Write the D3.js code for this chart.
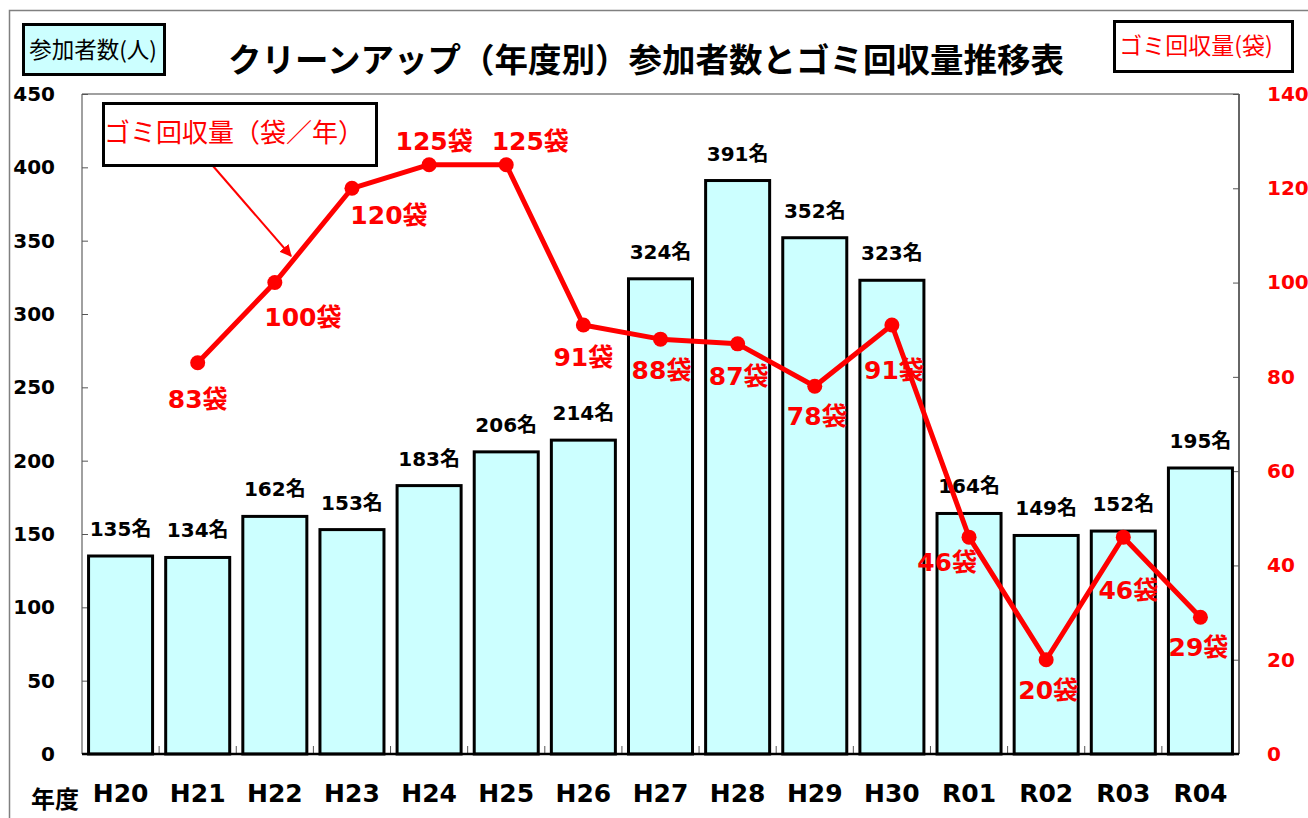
<!DOCTYPE html>
<html>
<head>
<meta charset="utf-8">
<script src="https://cdn.jsdelivr.net/npm/d3@7"></script>
<style>
  body { margin: 0; background: #fff; }
  svg { display: block; }
</style>
</head>
<body>
<svg id="chart" width="1308" height="818"></svg>
<script>
// Data
const years = ['H20', 'H21', 'H22', 'H23', 'H24', 'H25', 'H26', 'H27', 'H28', 'H29', 'H30', 'R01', 'R02', 'R03', 'R04'];
const participants = [135, 134, 162, 153, 183, 206, 214, 324, 391, 352, 323, 164, 149, 152, 195];
const bags = [null, 83, 100, 120, 125, 125, 91, 88, 87, 78, 91, 46, 20, 46, 29];
const leftTicks = [0, 50, 100, 150, 200, 250, 300, 350, 400, 450];
const rightTicks = [0, 20, 40, 60, 80, 100, 120, 140];

// Where each bag label sits relative to its point
const bagLabelOffset = [null, [0, 36], [28, 34], [37, 27], [5, -24], [24, -24], [0, 32], [1, 31],
    [1, 32], [2, 30], [2, 45], [-22, 25], [2, 30], [5, 53], [-2, 30]];

const width = 1308, height = 818;
let plotLeft = 82, plotRight = 1239, plotTop = 94, plotBottom = 754;

const numFont = '"DejaVu Sans", "Noto Sans CJK JP", sans-serif';
const jpFont = '"Noto Sans CJK JP", "DejaVu Sans", sans-serif';

const svg = d3.select("#chart");

// outer frame
svg.append("rect")
    .attr("x", 9.5).attr("y", 10.5)
    .attr("width", width + 20).attr("height", height + 20)
    .attr("fill", "none")
    .attr("stroke", "#808080")
    .attr("stroke-width", 1.5);

// Scales
var x = d3.scaleBand()
    .domain(years)
    .range([plotLeft, plotRight])
    .paddingInner(0.17)
    .paddingOuter(0.085);

var yLeft = d3.scaleLinear()
    .domain([0, 450])
    .range([plotBottom, plotTop]);

var yRight = d3.scaleLinear()
    .domain([0, 140])
    .range([plotBottom, plotTop]);

// plot frame
svg.append("line")
    .attr("x1", plotLeft).attr("x2", plotRight)
    .attr("y1", plotTop).attr("y2", plotTop)
    .attr("stroke", "#808080").attr("stroke-width", 1.5);
svg.append("line")
    .attr("x1", plotLeft).attr("x2", plotLeft)
    .attr("y1", plotTop).attr("y2", plotBottom)
    .attr("stroke", "#808080").attr("stroke-width", 1.5);
svg.append("line")
    .attr("x1", plotRight).attr("x2", plotRight)
    .attr("y1", plotTop).attr("y2", plotBottom)
    .attr("stroke", "#333").attr("stroke-width", 1.5);

// left axis
const gLeft = svg.append("g")
    .attr("transform", `translate(${plotLeft},0)`)
    .call(d3.axisLeft(yLeft).tickValues(leftTicks).tickSize(-6).tickPadding(27));
gLeft.select(".domain").remove();
gLeft.selectAll(".tick line").attr("stroke", "#555");
gLeft.selectAll("text")
    .style("font-family", numFont)
    .style("font-weight", "bold")
    .style("font-size", "20px")
    .attr("fill", "#000");

// right axis
const gRight = svg.append("g")
    .attr("transform", `translate(${plotRight},0)`)
    .call(d3.axisRight(yRight).tickValues(rightTicks).tickSize(-6).tickPadding(28));
gRight.select(".domain").remove();
gRight.selectAll(".tick line").attr("stroke", "#555");
gRight.selectAll("text")
    .style("font-family", numFont)
    .style("font-weight", "bold")
    .style("font-size", "20px")
    .attr("fill", "#ff0000");

// category ticks between bars
svg.selectAll(".xtick")
    .data(years.slice(1))
    .enter()
    .append("line")
    .attr("x1", d => x(d) - x.step() * x.paddingInner() / 2)
    .attr("x2", d => x(d) - x.step() * x.paddingInner() / 2)
    .attr("y1", plotBottom).attr("y2", plotBottom - 8)
    .attr("stroke", "#555").attr("stroke-width", 1);

// Bars
svg.selectAll(".bar")
    .data(participants)
    .enter()
    .append("rect")
    .attr("x", (d, i) => x(years[i]))
    .attr("y", d => yLeft(d))
    .attr("width", x.bandwidth())
    .attr("height", d => plotBottom - yLeft(d))
    .attr("fill", "#ccffff")
    .attr("stroke", "#000")
    .attr("stroke-width", 3);

// baseline
svg.append("line")
    .attr("x1", plotLeft).attr("x2", plotRight)
    .attr("y1", plotBottom).attr("y2", plotBottom)
    .attr("stroke", "#000").attr("stroke-width", 2.5);

// bar labels
svg.selectAll(".barLabel")
    .data(participants)
    .enter()
    .append("text")
    .attr("x", (d, i) => x(years[i]) + x.bandwidth() / 2)
    .attr("y", d => yLeft(d) - 20)
    .attr("text-anchor", "middle")
    .style("font-family", numFont)
    .style("font-weight", "bold")
    .style("font-size", "20px")
    .text(d => d + "名");

// x labels
svg.selectAll(".xLabel")
    .data(years)
    .enter()
    .append("text")
    .attr("x", d => x(d) + x.bandwidth() / 2)
    .attr("y", 802)
    .attr("text-anchor", "middle")
    .style("font-family", numFont)
    .style("font-weight", "bold")
    .style("font-size", "25px")
    .text(d => d);

svg.append("text")
    .attr("x", 55).attr("y", 808)
    .attr("text-anchor", "middle")
    .style("font-family", jpFont)
    .style("font-weight", "bold")
    .style("font-size", "24px")
    .text("年度");

// Line of bags
const bagPoints = years.map((d, i) => ({ year: d, value: bags[i], offset: bagLabelOffset[i] }))
    .filter(d => d.value !== null);

svg.append("path")
    .datum(bagPoints)
    .attr("fill", "none")
    .attr("stroke", "#ff0000")
    .attr("stroke-width", 5)
    .attr("stroke-linejoin", "round")
    .attr("d", d3.line()
        .x(d => x(d.year) + x.bandwidth() / 2)
        .y(d => yRight(d.value)));

svg.selectAll(".dot")
    .data(bagPoints)
    .enter()
    .append("circle")
    .attr("cx", d => x(d.year) + x.bandwidth() / 2)
    .attr("cy", d => yRight(d.value))
    .attr("r", 7.5)
    .attr("fill", "#ff0000");

svg.selectAll(".bagLabel")
    .data(bagPoints)
    .enter()
    .append("text")
    .attr("x", d => x(d.year) + x.bandwidth() / 2 + d.offset[0])
    .attr("y", d => yRight(d.value) + d.offset[1])
    .attr("dy", "0.36em")
    .attr("text-anchor", "middle")
    .attr("fill", "#ff0000")
    .style("font-family", numFont)
    .style("font-weight", "bold")
    .style("font-size", "25px")
    .text(d => d.value + "袋");

// Title
svg.append("text")
    .attr("x", 646).attr("y", 72)
    .attr("text-anchor", "middle")
    .style("font-family", jpFont)
    .style("font-weight", "bold")
    .style("font-size", "33.5px")
    .text("クリーンアップ（年度別）参加者数とゴミ回収量推移表");

// Left axis title box
svg.append("rect")
    .attr("x", 23.5).attr("y", 24.5)
    .attr("width", 141).attr("height", 50)
    .attr("fill", "#ccffff")
    .attr("stroke", "#000").attr("stroke-width", 3);
svg.append("text")
    .attr("x", 93).attr("y", 50)
    .attr("dy", "0.35em")
    .attr("text-anchor", "middle")
    .style("font-family", jpFont)
    .style("font-size", "22.5px")
    .text("参加者数(人)");

// Right axis title box
svg.append("rect")
    .attr("x", 1114.5).attr("y", 21.5)
    .attr("width", 178).attr("height", 50)
    .attr("fill", "#fff")
    .attr("stroke", "#000").attr("stroke-width", 3);
svg.append("text")
    .attr("x", 1196).attr("y", 46)
    .attr("dy", "0.35em")
    .attr("text-anchor", "middle")
    .attr("fill", "#ff0000")
    .style("font-family", jpFont)
    .style("font-size", "23px")
    .text("ゴミ回収量(袋)");

// Annotation box with arrow
svg.append("defs").append("marker")
    .attr("id", "arrow")
    .attr("viewBox", "0 0 10 10")
    .attr("refX", 9).attr("refY", 5)
    .attr("markerWidth", 6).attr("markerHeight", 6)
    .attr("orient", "auto")
    .append("path")
    .attr("d", "M0,0 L10,5 L0,10 z")
    .attr("fill", "#ff0000");

svg.append("line")
    .attr("x1", 213).attr("y1", 166)
    .attr("x2", 291).attr("y2", 256)
    .attr("stroke", "#ff0000")
    .attr("stroke-width", 2)
    .attr("marker-end", "url(#arrow)");

svg.append("rect")
    .attr("x", 103.5).attr("y", 103.5)
    .attr("width", 273).attr("height", 62)
    .attr("fill", "#fff")
    .attr("stroke", "#000").attr("stroke-width", 3);
svg.append("text")
    .attr("x", 234).attr("y", 133)
    .attr("dy", "0.35em")
    .attr("text-anchor", "middle")
    .attr("fill", "#ff0000")
    .style("font-family", jpFont)
    .style("font-size", "26px")
    .text("ゴミ回収量（袋／年）");
</script>
</body>
</html>
